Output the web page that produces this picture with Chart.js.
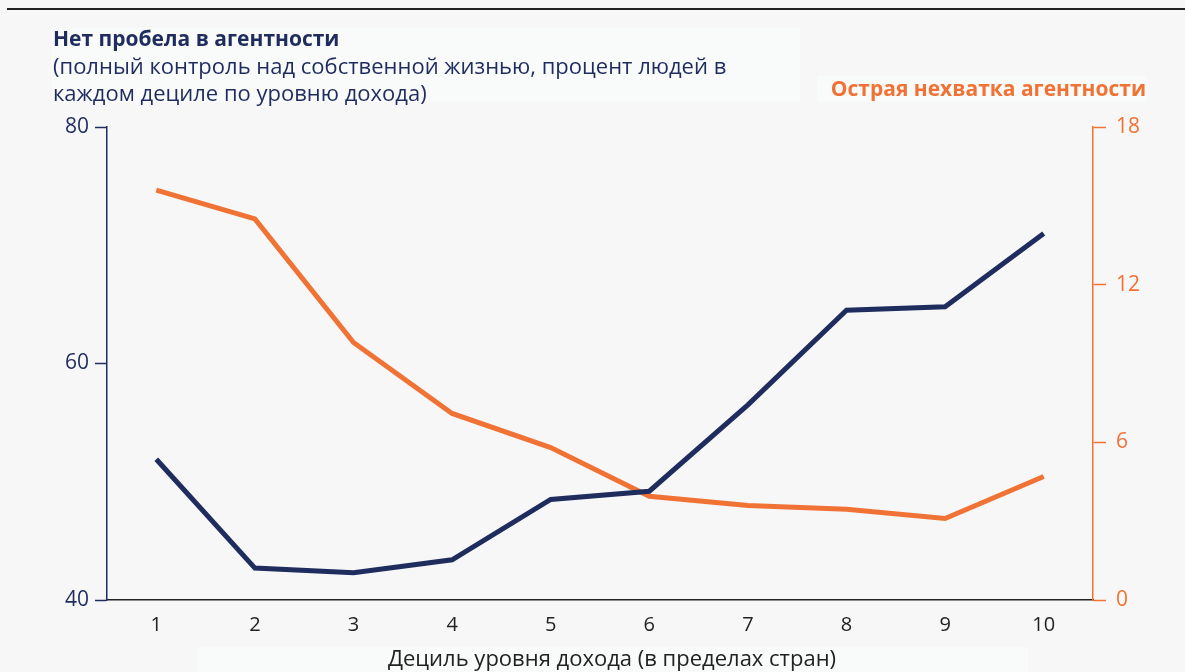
<!DOCTYPE html>
<html lang="ru">
<head>
    <meta charset="UTF-8">
    <title>Агентность по децилям дохода</title>
    <script src="https://cdn.jsdelivr.net/npm/chart.js"></script>
    <style>
        body { margin: 0; background: #f7f7f7; }
        #wrap { width: 1185px; height: 672px; }
    </style>
</head>
<body>
<div id="wrap"><canvas id="chart" width="1185" height="672"></canvas></div>
<script>
    // Data
    const deciles = ['1', '2', '3', '4', '5', '6', '7', '8', '9', '10'];
    const noGap = [51.9, 42.7, 42.3, 43.4, 48.5, 49.2, 56.5, 64.5, 64.8, 71.0];
    const severeLack = [15.6, 14.5, 9.8, 7.1, 5.8, 3.95, 3.6, 3.45, 3.1, 4.7];
    const leftTicks = [40, 60, 80];
    const rightTicks = [0, 6, 12, 18];

    const NAVY = '#1f2c5e';
    const ORANGE = '#f07335';
    const FONT = '"Open Sans", sans-serif';

    // Background, header texts and axis title
    const decor = {
        id: 'decor',
        beforeDraw(chart) {
            const c = chart.ctx;
            c.save();
            c.fillStyle = '#f7f7f7';
            c.fillRect(0, 0, chart.width, chart.height);
            c.fillStyle = '#f9fafa';
            c.fillRect(52, 28, 748, 74);
            c.fillRect(817, 76, 330, 26);
            c.fillRect(197, 647, 831, 25);
            c.fillStyle = '#222';
            c.fillRect(7, 8, 1178, 2);

            c.textBaseline = 'alphabetic';
            c.textAlign = 'left';
            c.fillStyle = NAVY;
            c.font = 'bold 21px ' + FONT;
            c.fillText('Нет пробела в агентности', 53, 46);
            c.font = '22px ' + FONT;
            c.fillText('(полный контроль над собственной жизнью, процент людей в', 53, 74);
            c.fillText('каждом дециле по уровню дохода)', 53, 101);

            c.fillStyle = ORANGE;
            c.font = 'bold 21px ' + FONT;
            c.textAlign = 'right';
            c.fillText('Острая нехватка агентности', 1146, 96);

            c.fillStyle = '#222';
            c.font = '22px ' + FONT;
            c.textAlign = 'center';
            c.fillText('Дециль уровня дохода (в пределах стран)', 612, 666);
            c.restore();
        }
    };

    new Chart(document.getElementById('chart'), {
        type: 'line',
        data: {
            labels: deciles,
            datasets: [{
                label: 'Нет пробела в агентности',
                data: noGap,
                yAxisID: 'y',
                borderColor: NAVY,
                borderWidth: 5,
                pointRadius: 0,
                tension: 0
            }, {
                label: 'Острая нехватка агентности',
                data: severeLack,
                yAxisID: 'y1',
                borderColor: ORANGE,
                borderWidth: 5,
                pointRadius: 0,
                tension: 0
            }]
        },
        options: {
            responsive: false,
            animation: false,
            layout: { padding: { top: 127, bottom: 32, left: 0, right: 0 } },
            plugins: {
                legend: { display: false },
                tooltip: { enabled: false }
            },
            scales: {
                x: {
                    offset: true,
                    grid: { display: false },
                    border: { color: '#222', width: 1.5 },
                    ticks: { color: '#222', font: { family: FONT, size: 20 }, padding: 5 },
                    afterFit(s) { s.height = 40; }
                },
                y: {
                    position: 'left',
                    min: 40, max: 80,
                    afterBuildTicks(s) { s.ticks = leftTicks.map(v => ({ value: v })); },
                    grid: { drawOnChartArea: false, tickLength: 12, color: NAVY, tickWidth: 1.5 },
                    border: { color: NAVY, width: 1.5 },
                    ticks: { color: NAVY, font: { family: FONT, size: 21 }, padding: 6 },
                    afterFit(s) { s.width = 107; }
                },
                y1: {
                    position: 'right',
                    min: 0, max: 18,
                    afterBuildTicks(s) { s.ticks = rightTicks.map(v => ({ value: v })); },
                    grid: { drawOnChartArea: false, tickLength: 13, color: ORANGE, tickWidth: 1.5 },
                    border: { color: ORANGE, width: 1.5 },
                    ticks: { color: ORANGE, font: { family: FONT, size: 21 }, padding: 10 },
                    afterFit(s) { s.width = 92; }
                }
            }
        },
        plugins: [decor]
    });
</script>
</body>
</html>
